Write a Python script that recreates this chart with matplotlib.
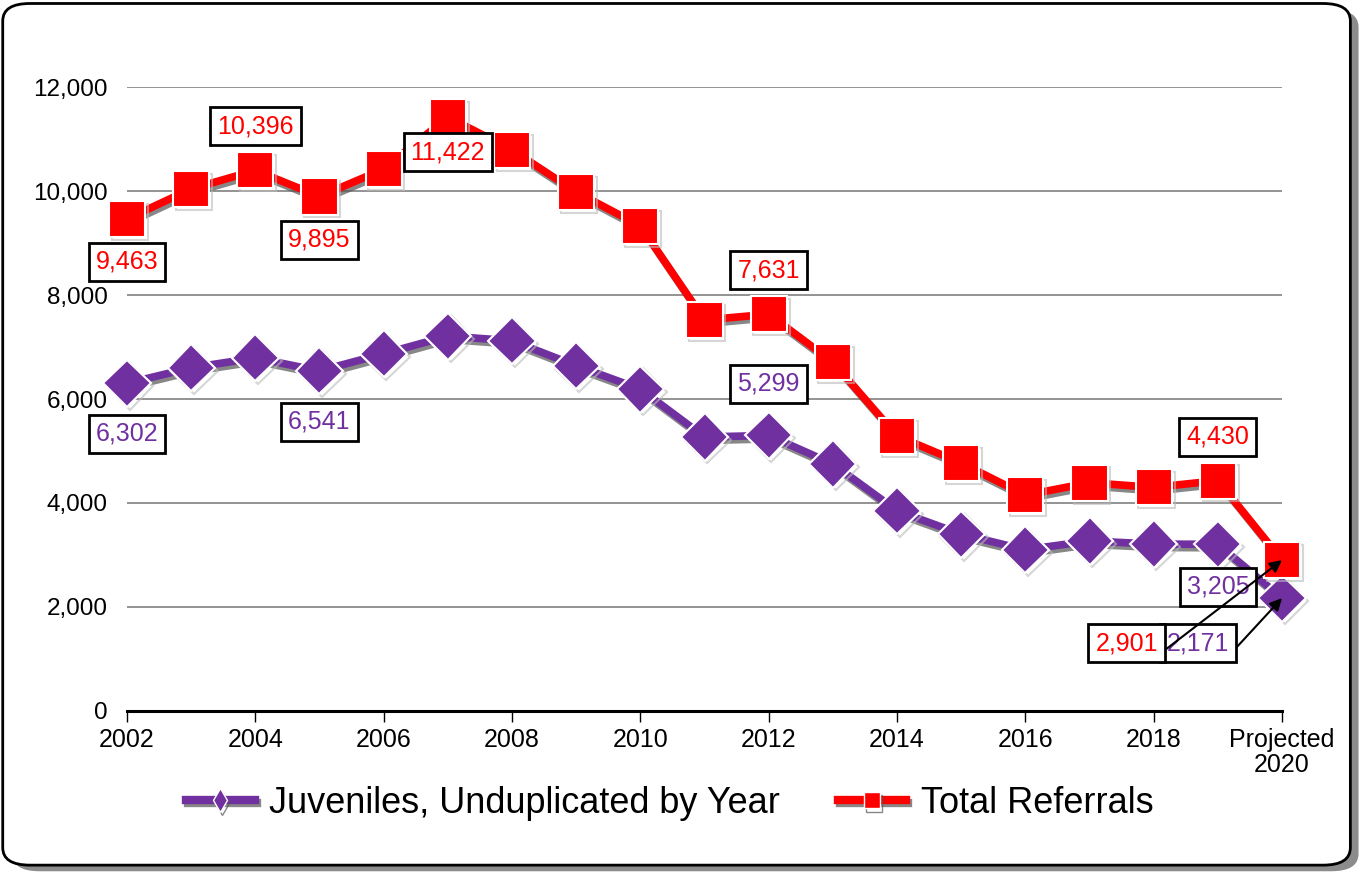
import numpy as np
import matplotlib
matplotlib.use('Agg')
import matplotlib.pyplot as plt
import matplotlib.patheffects as pe
from matplotlib.patches import FancyBboxPatch
from matplotlib.lines import Line2D

# data
years = [2002, 2003, 2004, 2005, 2006, 2007, 2008, 2009, 2010, 2011,
         2012, 2013, 2014, 2015, 2016, 2017, 2018, 2019, 2020]
referrals = [9463, 10040, 10396, 9895, 10420, 11422, 10790, 9980, 9330, 7520,
             7631, 6710, 5290, 4770, 4150, 4390, 4300, 4430, 2901]
juveniles = [6302, 6600, 6790, 6541, 6870, 7210, 7120, 6640, 6190, 5270,
             5299, 4750, 3850, 3400, 3100, 3270, 3210, 3205, 2171]
tick_years = [2002, 2004, 2006, 2008, 2010, 2012, 2014, 2016, 2018, 2020]
tick_labels = ['2002', '2004', '2006', '2008', '2010', '2012', '2014', '2016', '2018', 'Projected\n2020']

# labelled points: (year, value, label x, label y)
red_labels = [(2002, 9463, 2002, 8640), (2004, 10396, 2004, 11250), (2005, 9895, 2005, 9060),
              (2007, 11422, 2007, 10750), (2012, 7631, 2012, 8480), (2019, 4430, 2019, 5270)]
purple_labels = [(2002, 6302, 2002, 5330), (2005, 6541, 2005, 5560),
                 (2012, 5299, 2012, 6290), (2019, 3205, 2019, 2385)]

RED = '#FF0000'
PURPLE = '#7030A0'

plt.rcParams['font.family'] = ['Liberation Sans', 'DejaVu Sans']

fig = plt.figure(figsize=(13.64, 8.73), dpi=100)

# rounded frame with shadow
shadow = FancyBboxPatch((0.009, 0.002), 0.987, 0.987, boxstyle='round,pad=0,rounding_size=0.02',
                        transform=fig.transFigure, fc='#8c8c8c', ec='none', zorder=-2)
frame = FancyBboxPatch((0.002, 0.009), 0.988, 0.987, boxstyle='round,pad=0,rounding_size=0.02',
                       transform=fig.transFigure, fc='white', ec='black', lw=2, zorder=-1)
fig.patches.extend([shadow, frame])

ax = fig.add_axes([0.0931, 0.1856, 0.8468, 0.7147])
ax.set_facecolor('none')
ax.set_xlim(2002, 2020)
ax.set_ylim(0, 12000)

ax.set_yticks(np.arange(0, 12001, 2000))
ax.set_yticklabels([f'{v:,}' for v in range(0, 12001, 2000)], fontsize=17.5)
ax.yaxis.grid(True, color='#808080', lw=1.2)
ax.set_axisbelow(True)
ax.tick_params(axis='y', length=0, pad=14)

ax.set_xticks(tick_years)
ax.set_xticklabels(tick_labels, fontsize=18, linespacing=1.05)
ax.tick_params(axis='x', length=8, width=1, direction='out', pad=4)

for s in ['left', 'right', 'top']:
    ax.spines[s].set_visible(False)
ax.spines['bottom'].set_linewidth(2.2)

line_fx = [pe.SimpleLineShadow(offset=(1.5, -2.5), shadow_color='#555555', alpha=0.7), pe.Normal()]
mark_fx = [pe.SimpleLineShadow(offset=(2, -2), shadow_color='#bbbbbb', alpha=0.6), pe.Normal()]

# lines with shadow, markers drawn on top
ax.plot(years, juveniles, color=PURPLE, lw=5.5, path_effects=line_fx, zorder=3)
ax.plot(years, juveniles, ls='none', marker='D', ms=24, mfc=PURPLE, mec='white', mew=1.5,
        path_effects=mark_fx, clip_on=False, zorder=3.5)
ax.plot(years, referrals, color=RED, lw=5.5, path_effects=line_fx, zorder=4)
ax.plot(years, referrals, ls='none', marker='s', ms=26, mfc=RED, mec='white', mew=1.5,
        path_effects=mark_fx, clip_on=False, zorder=4.5)

box = dict(boxstyle='square,pad=0.28', fc='white', ec='black', lw=2)
for x, v, lx, ly in red_labels:
    ax.text(lx, ly, f'{v:,}', color=RED, fontsize=18, ha='center', va='center', bbox=box, zorder=6)
for x, v, lx, ly in purple_labels:
    ax.text(lx, ly, f'{v:,}', color=PURPLE, fontsize=18, ha='center', va='center', bbox=box, zorder=6)

# projected values with arrows
ax.annotate(f'{juveniles[-1]:,}', xy=(2020, juveniles[-1]), xytext=(2018.69, 1300),
            color=PURPLE, fontsize=18, ha='center', va='center', bbox=box, zorder=6,
            arrowprops=dict(arrowstyle='-|>', color='black', lw=1.5, relpos=(1, 0), shrinkA=0, shrinkB=0),
            annotation_clip=False)
ax.annotate(f'{referrals[-1]:,}', xy=(2020, 2901), xytext=(2017.58, 1300),
            color=RED, fontsize=18, ha='center', va='center', bbox=box, zorder=7,
            arrowprops=dict(arrowstyle='-|>', color='black', lw=1.5, relpos=(1, 0), shrinkA=0, shrinkB=0),
            annotation_clip=False)

handles = [Line2D([], [], color=PURPLE, lw=6, marker='d', ms=12, mfc=PURPLE, mec='white', mew=1,
                  path_effects=line_fx),
           Line2D([], [], color=RED, lw=6, marker='s', ms=12, mfc=RED, mec='white', mew=1,
                  path_effects=line_fx)]
fig.legend(handles, ['Juveniles, Unduplicated by Year', 'Total Referrals'],
           loc='center', bbox_to_anchor=(0.491, 0.08), ncol=2, frameon=False,
           prop={'size': 26}, handlelength=1.9, columnspacing=1.6, handletextpad=0.4)

fig.savefig('out.png', dpi=100)
